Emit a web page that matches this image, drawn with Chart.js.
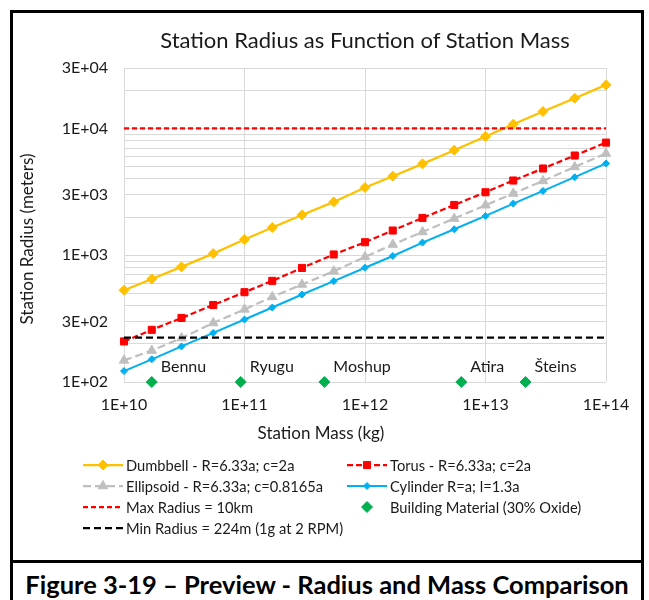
<!DOCTYPE html>
<html>
<head>
<meta charset="utf-8">
<script src="https://cdn.jsdelivr.net/npm/chart.js@4.4.0/dist/chart.umd.min.js"></script>
<style>
  body { margin: 0; background: #fff; font-family: Lato, "Noto Sans", sans-serif; color: #1a1a1a; }
  #frame { position: absolute; left: 10px; top: 10px; width: 628px; height: 640px; border: 3px solid #000; }
  #divider { position: absolute; left: 10px; top: 560px; width: 634px; height: 3px; background: #000; }
  #chartBox { position: absolute; left: 0; top: 0; width: 649px; height: 450px; }
  .txt { position: absolute; white-space: nowrap; }
  #title { left: 124px; width: 482px; top: 27px; line-height: 26px; font-size: 22px; text-align: center; }
  #ytitle { left: -123px; width: 300px; top: 229px; line-height: 20px; font-size: 17px; text-align: center; transform: rotate(-90deg); }
  #xtitle { left: 171px; width: 300px; top: 423px; line-height: 20px; font-size: 17px; text-align: center; }
  #caption { left: 10px; width: 634px; top: 568px; line-height: 32px; font-size: 25.5px; font-weight: bold; text-align: center; color: #000; }
  .leg { position: absolute; height: 20px; display: flex; align-items: center; font-size: 14.7px; white-space: nowrap; }
  .leg canvas { margin-right: 3px; }
</style>
</head>
<body>
<div id="frame"></div>
<div id="divider"></div>
<div id="chartBox"><canvas id="radiusChart" width="649" height="450"></canvas></div>
<div class="txt" id="title">Station Radius as Function of Station Mass</div>
<div class="txt" id="ytitle">Station Radius (meters)</div>
<div class="txt" id="xtitle">Station Mass (kg)</div>
<div id="legend"></div>
<div class="txt" id="caption">Figure 3-19 – Preview - Radius and Mass Comparison</div>

<script>
// values
const massValues = [1e10, 1.7e10, 3e10, 5.5e10, 1e11, 1.7e11, 3e11, 5.5e11, 1e12,
  1.7e12, 3e12, 5.5e12, 1e13, 1.7e13, 3e13, 5.5e13, 1e14];
const dumbbellRadius = [530, 650, 809, 1030, 1330, 1655, 2080, 2635, 3420,
  4205, 5260, 6745, 8650, 10810, 13610, 17340, 22070];
const torusRadius = [209, 258, 320, 405, 511, 628, 794, 1014, 1267,
  1567, 1969, 2493, 3140, 3886, 4834, 6119, 7737];
const ellipsoidRadius = [148, 177, 222, 292, 374, 469, 588, 748, 970,
  1215, 1526, 1948, 2483, 3070, 3857, 4977, 6353];
const cylinderRadius = [122, 151, 191, 244, 311, 387, 490, 624, 797,
  986, 1259, 1603, 2042, 2557, 3216, 4127, 5300];
const limitMass = [1e10, 1e14];
const maxRadius = [10000, 10000];
const minRadius = [224, 224];
const asteroidNames = ["Bennu", "Ryugu", "Moshup", "Atira", "Šteins"];
const asteroidMass = [1.7e10, 9.3e10, 4.6e11, 6.3e12, 2.15e13];
const asteroidRadius = [100, 100, 100, 100, 100];
const xTickValues = [1e10, 1e11, 1e12, 1e13, 1e14];
const yTickValues = [100, 300, 1000, 3000, 10000, 30000];

const pts = (xs, ys) => xs.map((x, i) => ({x: x, y: ys[i]}));
const sci = v => {
  const e = Math.floor(Math.log10(v) + 1e-9);
  return Math.round(v / Math.pow(10, e)) + "E+" + String(e).padStart(2, "0");
};

const datasets = [
  {label: "Dumbbell - R=6.33a; c=2a", data: pts(massValues, dumbbellRadius), borderColor: "#FFC000", backgroundColor: "#FFC000",
    borderWidth: 2.25, pointStyle: "rectRot", pointRadius: 5, pointBorderWidth: 1, showLine: true},
  {label: "Torus - R=6.33a; c=2a", data: pts(massValues, torusRadius), borderColor: "#FF0000", backgroundColor: "#FF0000",
    borderWidth: 2.25, borderDash: [6, 3], pointStyle: "rect", pointRadius: 5, pointBorderWidth: 1, showLine: true},
  {label: "Ellipsoid - R=6.33a; c=0.8165a", data: pts(massValues, ellipsoidRadius), borderColor: "#BFBFBF", backgroundColor: "#BFBFBF",
    borderWidth: 2.25, borderDash: [8, 4], pointStyle: "triangle", pointRadius: 5.5, pointBorderWidth: 1, showLine: true},
  {label: "Cylinder R=a; l=1.3a", data: pts(massValues, cylinderRadius), borderColor: "#00B0F0", backgroundColor: "#00B0F0",
    borderWidth: 2, pointStyle: "rectRot", pointRadius: 3.5, pointBorderWidth: 1, showLine: true},
  {label: "Max Radius = 10km", data: pts(limitMass, maxRadius), borderColor: "#FF0000", backgroundColor: "#FF0000",
    borderWidth: 2.25, borderDash: [5, 3], pointRadius: 0, showLine: true},
  {label: "Building Material (30% Oxide)", data: pts(asteroidMass, asteroidRadius), borderColor: "#00B050", backgroundColor: "#00B050",
    pointStyle: "rectRot", pointRadius: 5.5, pointBorderWidth: 1, showLine: false},
  {label: "Min Radius = 224m (1g at 2 RPM)", data: pts(limitMass, minRadius), borderColor: "#000000", backgroundColor: "#000000",
    borderWidth: 2.25, borderDash: [7, 4], pointRadius: 0, showLine: true}
];
datasets.forEach((d, i) => { d.order = 10 - i; d.clip = false; });

// names next to the green diamonds
const asteroidLabels = {
  id: "asteroidLabels",
  afterDatasetsDraw(chart) {
    const meta = chart.getDatasetMeta(5);
    const ctx = chart.ctx;
    ctx.save();
    ctx.font = "16px Lato, 'Noto Sans', sans-serif";
    ctx.fillStyle = "#1a1a1a";
    ctx.textAlign = "left";
    ctx.textBaseline = "middle";
    meta.data.forEach((p, i) => ctx.fillText(asteroidNames[i], p.x + 9, p.y - 15));
    ctx.restore();
  }
};

const gridColor = "#D9D9D9";
const tickFont = {family: "Lato, 'Noto Sans', sans-serif", size: 16};

const radiusChart = new Chart(document.getElementById("radiusChart"), {
  type: "scatter",
  data: {datasets: datasets},
  options: {
    responsive: false,
    animation: false,
    layout: {padding: {left: 0, top: 68, right: 43, bottom: 38}},
    plugins: {legend: {display: false}, tooltip: {enabled: false}, title: {display: false}},
    scales: {
      x: {
        type: "logarithmic", min: 1e10, max: 1e14,
        afterBuildTicks: s => { s.ticks = xTickValues.map(v => ({value: v})); },
        afterFit: s => { s.height = 30; },
        grid: {color: gridColor, drawTicks: false},
        border: {display: false},
        ticks: {font: tickFont, color: "#1a1a1a", padding: 13, maxRotation: 0, autoSkip: false, callback: v => sci(v)}
      },
      y: {
        type: "logarithmic", min: 100, max: 30000,
        afterBuildTicks: s => {
          const t = [];
          for (let e = 2; e <= 4; e++) for (let m = 1; m <= 9; m++) {
            const v = m * Math.pow(10, e);
            if (v <= 30000) t.push({value: v});
          }
          s.ticks = t;
        },
        afterFit: s => { s.width = 124; },
        grid: {color: gridColor, drawTicks: false},
        border: {display: false},
        ticks: {font: tickFont, color: "#1a1a1a", padding: 16, autoSkip: false,
          callback: v => yTickValues.includes(v) ? sci(v) : ""}
      }
    }
  },
  plugins: [asteroidLabels]
});

// two-column legend like the original
const legendPos = [[83, 465], [347, 465], [83, 486], [347, 486], [83, 507], [347, 507], [83, 528]];
const legendBox = document.getElementById("legend");
datasets.forEach((d, i) => {
  const item = document.createElement("div");
  item.className = "leg";
  item.style.left = legendPos[i][0] + "px";
  item.style.top = (legendPos[i][1] - 10) + "px";
  const c = document.createElement("canvas");
  c.width = 40; c.height = 16;
  const g = c.getContext("2d");
  if (d.showLine) {
    g.strokeStyle = d.borderColor;
    g.lineWidth = d.borderWidth;
    g.setLineDash(d.borderDash || []);
    g.beginPath(); g.moveTo(0, 8); g.lineTo(40, 8); g.stroke();
    g.setLineDash([]);
  }
  if (d.pointRadius) {
    g.fillStyle = d.backgroundColor;
    g.strokeStyle = d.borderColor;
    g.lineWidth = d.pointBorderWidth || 1;
    Chart.helpers.drawPoint(g, {pointStyle: d.pointStyle, radius: d.pointRadius, borderWidth: d.pointBorderWidth || 1, rotation: 0}, 20, 8);
  }
  item.appendChild(c);
  const s = document.createElement("span");
  s.textContent = d.label;
  item.appendChild(s);
  legendBox.appendChild(item);
});
</script>
</body>
</html>
